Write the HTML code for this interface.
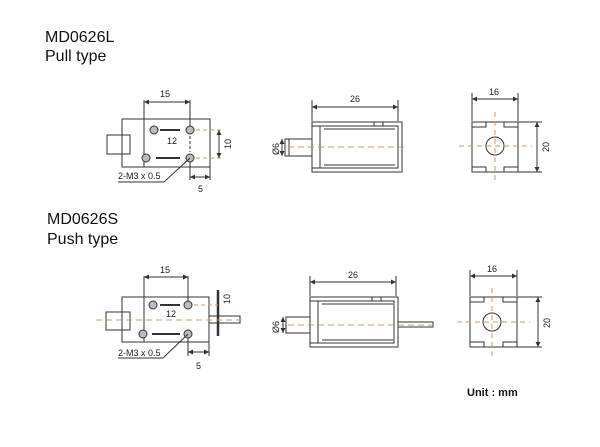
<!DOCTYPE html>
<html><head><style>
body{margin:0;background:#fff;width:600px;height:447px;overflow:hidden}
svg{display:block}
.t{font-family:"Liberation Sans",sans-serif;font-size:16px;fill:#111}
.s{font-family:"Liberation Sans",sans-serif;font-size:9px;fill:#222}
</style></head><body>
<svg width="600" height="447" viewBox="0 0 600 447" fill="none" stroke="#333" stroke-width="1">
<defs><marker id="a" viewBox="0 0 6 6" refX="6" refY="3" markerWidth="5" markerHeight="5" orient="auto-start-reverse"><path d="M0,0L6,3L0,6z" fill="#333" stroke="none"/></marker></defs>
<text class="t" x="45" y="42" stroke="none">MD0626L</text>
<text class="t" x="45" y="61" stroke="none">Pull type</text>
<text class="t" x="47" y="224" stroke="none">MD0626S</text>
<text class="t" x="47" y="244" stroke="none">Push type</text>
<text x="467" y="396" stroke="none" style="font:bold 11px 'Liberation Sans',sans-serif;fill:#111">Unit : mm</text>

<!-- Top row: view 1 -->
<g>
<rect x="122" y="119" width="88" height="48"/>
<rect x="107" y="135" width="23" height="19"/>
<line x1="144" y1="100" x2="144" y2="167"/><line x1="190" y1="100" x2="190" y2="130"/>
<line x1="144" y1="102" x2="190" y2="102" marker-start="url(#a)" marker-end="url(#a)"/>
<text class="s" x="160" y="97" stroke="none">15</text>
<line x1="160" y1="130" x2="180" y2="130" stroke-width="2"/>
<line x1="156" y1="158" x2="180" y2="158" stroke-width="2"/>
<text class="s" x="167" y="144" stroke="none">12</text>
<line x1="190" y1="136" x2="190" y2="152" stroke-dasharray="3 2"/>
<g fill="#bbb"><circle cx="154" cy="130" r="4"/><circle cx="190" cy="130" r="4"/><circle cx="146" cy="158" r="4"/><circle cx="190" cy="158" r="4"/></g>
<line x1="196" y1="130" x2="222" y2="130" stroke="#c96" stroke-dasharray="4 3"/>
<line x1="196" y1="158" x2="222" y2="158" stroke="#c96" stroke-dasharray="4 3"/>
<line x1="219" y1="130" x2="219" y2="158" marker-start="url(#a)" marker-end="url(#a)"/>
<text class="s" transform="translate(231,149) rotate(-90)" stroke="none">10</text>
<line x1="190" y1="162" x2="190" y2="180"/><line x1="210" y1="167" x2="210" y2="180"/>
<line x1="190" y1="177" x2="210" y2="177" marker-start="url(#a)" marker-end="url(#a)"/>
<text class="s" x="198" y="192" stroke="none">5</text>
<polyline points="118,182 164,182 190,158"/>
<text class="s" x="118" y="179" stroke="none">2-M3 x 0.5</text>
</g>
<!-- Top row side -->
<g>
<line x1="312" y1="100" x2="312" y2="121"/><line x1="398" y1="100" x2="398" y2="121"/>
<line x1="312" y1="107" x2="398" y2="107" marker-start="url(#a)" marker-end="url(#a)"/>
<text class="s" x="350" y="102" stroke="none">26</text>
<path d="M312,122H402V172H312Z"/><path d="M312,126H398V168H312"/>
<line x1="320" y1="126" x2="320" y2="168"/><line x1="324" y1="129" x2="395" y2="129"/><line x1="324" y1="165" x2="395" y2="165"/>
<rect x="374" y="122" width="9" height="4"/>
<rect x="285" y="139" width="27" height="17"/>
<line x1="289" y1="139" x2="289" y2="156"/>
<line x1="282" y1="139" x2="282" y2="156" marker-start="url(#a)" marker-end="url(#a)"/>
<text class="s" transform="translate(279,155) rotate(-90)" stroke="none">Ø6</text>
<line x1="288" y1="147" x2="408" y2="147" stroke="#c96" stroke-dasharray="6 4"/>
</g>
<!-- Top row end -->
<g>
<line x1="472" y1="93" x2="472" y2="121"/><line x1="518" y1="93" x2="518" y2="121"/>
<line x1="472" y1="99" x2="518" y2="99" marker-start="url(#a)" marker-end="url(#a)"/>
<text class="s" x="489" y="95" stroke="none">16</text>
<rect x="472" y="122" width="46" height="50"/>
<path d="M472,127H486V122M518,127H504V122M472,167H486V172M518,167H504V172"/>
<circle cx="495" cy="146" r="9"/>
<line x1="459" y1="146" x2="532" y2="146" stroke="#c96" stroke-dasharray="5 4"/>
<line x1="495" y1="112" x2="495" y2="180" stroke="#c96" stroke-dasharray="5 4"/>
<line x1="518" y1="122" x2="542" y2="122"/><line x1="518" y1="172" x2="542" y2="172"/>
<line x1="537" y1="122" x2="537" y2="172" marker-start="url(#a)" marker-end="url(#a)"/>
<text class="s" transform="translate(549,152) rotate(-90)" stroke="none">20</text>
</g>

<!-- Bottom row: view 1 -->
<g>
<rect x="122" y="297" width="87" height="45"/>
<rect x="106" y="312" width="24" height="18"/>
<rect x="209" y="316" width="31" height="7"/>
<line x1="218" y1="290" x2="218" y2="336" stroke-width="2.5"/>
<text class="s" transform="translate(230,304) rotate(-90)" stroke="none">10</text>
<line x1="144" y1="276" x2="144" y2="342"/><line x1="188" y1="276" x2="188" y2="305"/>
<line x1="144" y1="277" x2="188" y2="277" marker-start="url(#a)" marker-end="url(#a)"/>
<text class="s" x="160" y="273" stroke="none">15</text>
<line x1="160" y1="305" x2="180" y2="305" stroke-width="2"/>
<line x1="152" y1="334" x2="180" y2="334" stroke-width="2"/>
<text class="s" x="166" y="317" stroke="none">12</text>
<g fill="#bbb"><circle cx="153" cy="305" r="4"/><circle cx="188" cy="305" r="4"/><circle cx="143" cy="334" r="4"/><circle cx="188" cy="334" r="4"/></g>
<line x1="194" y1="305" x2="218" y2="305" stroke="#c96" stroke-dasharray="4 3"/>
<line x1="96" y1="320" x2="245" y2="320" stroke="#c96" stroke-dasharray="6 4"/>
<line x1="188" y1="338" x2="188" y2="356"/><line x1="209" y1="342" x2="209" y2="356"/>
<line x1="188" y1="352" x2="209" y2="352" marker-start="url(#a)" marker-end="url(#a)"/>
<text class="s" x="196" y="369" stroke="none">5</text>
<polyline points="118,358 163,358 188,334"/>
<text class="s" x="118" y="356" stroke="none">2-M3 x 0.5</text>
</g>
<!-- Bottom side -->
<g>
<line x1="310" y1="276" x2="310" y2="296"/><line x1="396" y1="276" x2="396" y2="296"/>
<line x1="310" y1="282" x2="396" y2="282" marker-start="url(#a)" marker-end="url(#a)"/>
<text class="s" x="348" y="278" stroke="none">26</text>
<path d="M310,297H398V347H310Z"/><path d="M310,301H394V343H310"/>
<line x1="318" y1="301" x2="318" y2="343"/><line x1="322" y1="304" x2="393" y2="304"/><line x1="322" y1="340" x2="393" y2="340"/>
<rect x="372" y="297" width="9" height="4"/>
<rect x="286" y="317" width="24" height="16"/>
<rect x="398" y="322" width="35" height="5"/>
<line x1="283" y1="317" x2="283" y2="333" marker-start="url(#a)" marker-end="url(#a)"/>
<text class="s" transform="translate(279,333) rotate(-90)" stroke="none">Ø6</text>
<line x1="288" y1="325" x2="436" y2="325" stroke="#c96" stroke-dasharray="6 4"/>
</g>
<!-- Bottom end -->
<g>
<line x1="470" y1="270" x2="470" y2="296"/><line x1="517" y1="270" x2="517" y2="296"/>
<line x1="470" y1="276" x2="517" y2="276" marker-start="url(#a)" marker-end="url(#a)"/>
<text class="s" x="487" y="272" stroke="none">16</text>
<rect x="470" y="297" width="47" height="50"/>
<path d="M470,302H484V297M517,302H503V297M470,342H484V347M517,342H503V347"/>
<circle cx="492" cy="322" r="9"/>
<line x1="457" y1="322" x2="530" y2="322" stroke="#c96" stroke-dasharray="5 4"/>
<line x1="492" y1="288" x2="492" y2="356" stroke="#c96" stroke-dasharray="5 4"/>
<line x1="517" y1="297" x2="542" y2="297"/><line x1="517" y1="347" x2="542" y2="347"/>
<line x1="538" y1="297" x2="538" y2="347" marker-start="url(#a)" marker-end="url(#a)"/>
<text class="s" transform="translate(550,328) rotate(-90)" stroke="none">20</text>
</g>
</svg>
</body></html>
